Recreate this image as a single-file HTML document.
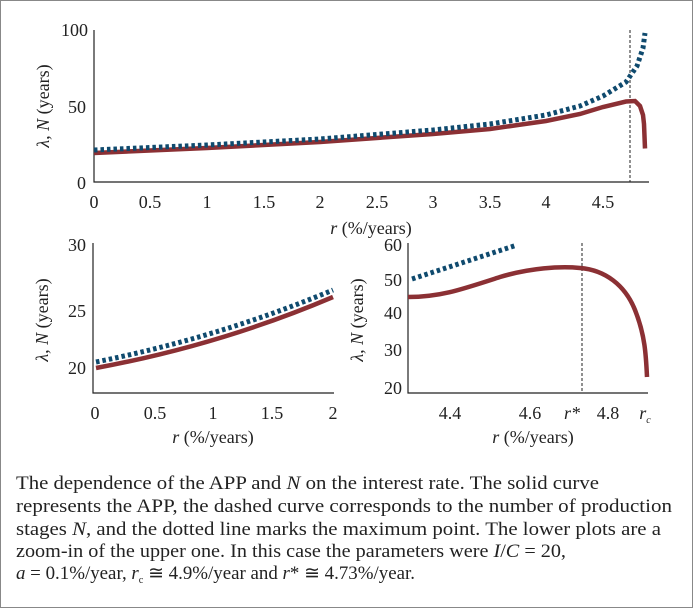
<!DOCTYPE html>
<html><head><meta charset="utf-8"><style>
body{margin:0;background:#fff}
.w{position:relative;width:691px;height:606px;border:1px solid #888;overflow:hidden}
</style></head><body><div class="w">
<svg width="693" height="608" style="position:absolute;left:-1px;top:-1px" font-family="Liberation Serif, serif" fill="#222">
<g stroke="#222" stroke-width="1.2" fill="none">
<path d="M94,30V182H649"/>
<path d="M93,243V393H334"/>
<path d="M408,243V393H648"/>
</g>
<g stroke="#222" stroke-width="1" stroke-dasharray="3,2">
<path d="M630,30V182"/><path d="M582,243V393"/>
</g>
<polyline fill="none" stroke="#8b3034" stroke-width="4.5" points="94,153 207,148 320,142 433,134 490,129 546,121 580,114 603,107 626,101.5 635,101 640,106 643,115 644,124 645,148.5"/>
<polyline fill="none" stroke="#0f4a6e" stroke-width="5" stroke-dasharray="3.5,3" points="94,150 207,145 320,139 433,130 490,124 546,115 580,106 603,96 626,82 637,66 643,48 645,33"/>
<path fill="none" stroke="#8b3034" stroke-width="4.5" d="M96,368 Q220,345 333,297"/>
<path fill="none" stroke="#0f4a6e" stroke-width="5" stroke-dasharray="3.5,3" d="M96,362 Q220,337 333,290"/>
<path fill="none" stroke="#8b3034" stroke-width="4.5" d="M408,297 C440,297 460,290 500,277 C530,268 560,266 580,268 C605,270 625,285 635,310 C645,335 646,355 647,377"/>
<path fill="none" stroke="#0f4a6e" stroke-width="5" stroke-dasharray="3.5,3" d="M412,279 L517,245"/>
<g font-size="18" text-anchor="end">
<text x="88" y="36">100</text><text x="86" y="113">50</text><text x="86" y="189">0</text>
<text x="86" y="251">30</text><text x="86" y="317">25</text><text x="86" y="374">20</text>
<text x="402" y="251">60</text><text x="402" y="286">50</text><text x="402" y="319">40</text><text x="402" y="356">30</text><text x="402" y="394">20</text>
</g>
<g font-size="18" text-anchor="middle">
<text x="94" y="208">0</text><text x="150" y="208">0.5</text><text x="207" y="208">1</text><text x="264" y="208">1.5</text><text x="320" y="208">2</text><text x="377" y="208">2.5</text><text x="433" y="208">3</text><text x="490" y="208">3.5</text><text x="546" y="208">4</text><text x="603" y="208">4.5</text>
<text x="95" y="419">0</text><text x="155" y="419">0.5</text><text x="213" y="419">1</text><text x="272" y="419">1.5</text><text x="333" y="419">2</text>
<text x="450" y="419">4.4</text><text x="530" y="419">4.6</text><text x="572" y="419" font-style="italic">r*</text><text x="608" y="419">4.8</text><text x="645" y="419" font-style="italic">r<tspan font-size="10" dy="4">c</tspan></text>
<text x="371" y="234"><tspan font-style="italic">r</tspan> (%/years)</text>
<text x="213" y="443"><tspan font-style="italic">r</tspan> (%/years)</text>
<text x="533" y="443"><tspan font-style="italic">r</tspan> (%/years)</text>
</g>
<text font-size="18" text-anchor="middle" transform="translate(49,106) rotate(-90)"><tspan font-style="italic">λ, N</tspan> (years)</text>
<text font-size="18" text-anchor="middle" transform="translate(48,320) rotate(-90)"><tspan font-style="italic">λ, N</tspan> (years)</text>
<text font-size="18" text-anchor="middle" transform="translate(363,320) rotate(-90)"><tspan font-style="italic">λ, N</tspan> (years)</text>
<g font-size="18.5">
<text x="16" y="489" textLength="583" lengthAdjust="spacingAndGlyphs">The dependence of the APP and <tspan font-style="italic">N</tspan> on the interest rate. The solid curve</text>
<text x="16" y="512" textLength="656" lengthAdjust="spacingAndGlyphs">represents the APP, the dashed curve corresponds to the number of production</text>
<text x="16" y="535" textLength="645" lengthAdjust="spacingAndGlyphs">stages <tspan font-style="italic">N</tspan>, and the dotted line marks the maximum point. The lower plots are a</text>
<text x="16" y="557" textLength="550" lengthAdjust="spacingAndGlyphs">zoom-in of the upper one. In this case the parameters were  <tspan font-style="italic">I</tspan>/<tspan font-style="italic">C</tspan> = 20,</text>
<text x="16" y="579" textLength="399" lengthAdjust="spacingAndGlyphs"><tspan font-style="italic">a</tspan> = 0.1%/year, <tspan font-style="italic">r</tspan><tspan font-size="10" dy="4">c</tspan><tspan dy="-4"> ≅ 4.9%/year and </tspan><tspan font-style="italic">r</tspan>* ≅ 4.73%/year.</text>
</g>
</svg>
</div></body></html>
